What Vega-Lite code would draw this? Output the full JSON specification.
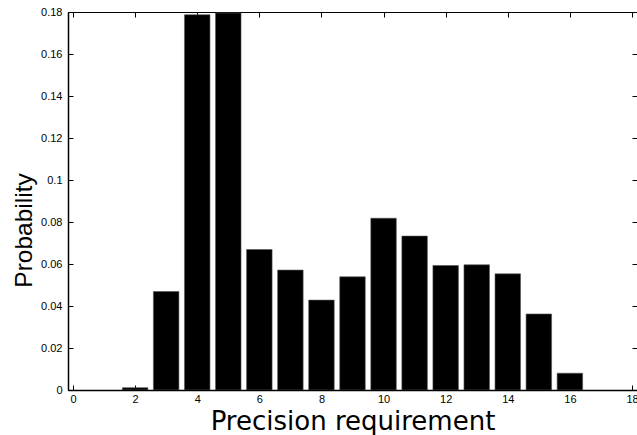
{
  "$schema": "https://vega.github.io/schema/vega-lite/v6.json",
  "autosize": {"type": "none"},
  "width": 569,
  "height": 378,
  "padding": {"left": 68, "top": 12, "right": 0, "bottom": 45},
  "background": "white",
  "config": {
    "view": {"stroke": "black", "strokeWidth": 1},
    "font": "Liberation Sans",
    "axis": {
      "labelFont": "Liberation Sans",
      "titleFont": "Liberation Sans",
      "labelColor": "black",
      "titleColor": "black",
      "domainColor": "black",
      "tickColor": "black",
      "grid": false,
      "labelFontSize": 11,
      "titleFontWeight": "normal",
      "titleFontSize": 24
    }
  },
  "data": {
    "values": [
      {"precision": 2, "probability": 0.0011},
      {"precision": 3, "probability": 0.0469},
      {"precision": 4, "probability": 0.1787},
      {"precision": 5, "probability": 0.1795},
      {"precision": 6, "probability": 0.0669},
      {"precision": 7, "probability": 0.0571},
      {"precision": 8, "probability": 0.0428},
      {"precision": 9, "probability": 0.0539},
      {"precision": 10, "probability": 0.0818},
      {"precision": 11, "probability": 0.0733},
      {"precision": 12, "probability": 0.0593},
      {"precision": 13, "probability": 0.0596},
      {"precision": 14, "probability": 0.0553},
      {"precision": 15, "probability": 0.0362},
      {"precision": 16, "probability": 0.0080}
    ]
  },
  "layer": [
    {
      "mark": {"type": "bar", "width": 25.5, "fill": "black", "stroke": "#555", "strokeWidth": 0.6, "clip": true},
      "encoding": {
        "x": {
          "field": "precision", "type": "quantitative",
          "scale": {"domain": [0, 18], "nice": false, "zero": false},
          "axis": {
            "orient": "bottom", "values": [0, 2, 4, 6, 8, 10, 12, 14, 16, 18],
            "tickSize": -5, "labelPadding": 8, "domainWidth": 1.5,
            "title": "Precision requirement",
            "titleFont": "DejaVu Sans", "titleFontSize": 26,
            "titleBaseline": "alphabetic", "titleY": 39,
            "labelFlush": false, "labelOverlap": false
          }
        },
        "y": {
          "field": "probability", "type": "quantitative",
          "scale": {"domain": [0, 0.18], "nice": false},
          "axis": {
            "orient": "left",
            "values": [0, 0.02, 0.04, 0.06, 0.08, 0.1, 0.12, 0.14, 0.16, 0.18],
            "format": ".2~f", "tickSize": -5, "labelPadding": 11, "domainWidth": 1.5,
            "title": "Probability", "titlePadding": 4, "titleFontSize": 24.5,
            "titleY": 218,
            "labelFlush": false, "labelOverlap": false
          }
        }
      }
    },
    {
      "mark": {"type": "bar", "width": 25.5, "opacity": 0},
      "encoding": {
        "x": {
          "field": "precision", "type": "quantitative",
          "axis": {
            "orient": "top", "values": [0, 2, 4, 6, 8, 10, 12, 14, 16, 18],
            "tickSize": -5, "labels": false, "title": null, "domain": false
          }
        },
        "y": {
          "field": "probability", "type": "quantitative",
          "axis": {
            "orient": "right",
            "values": [0, 0.02, 0.04, 0.06, 0.08, 0.1, 0.12, 0.14, 0.16, 0.18],
            "tickSize": -5, "labels": false, "title": null, "domain": false
          }
        }
      }
    }
  ],
  "resolve": {"axis": {"x": "independent", "y": "independent"}}
}
